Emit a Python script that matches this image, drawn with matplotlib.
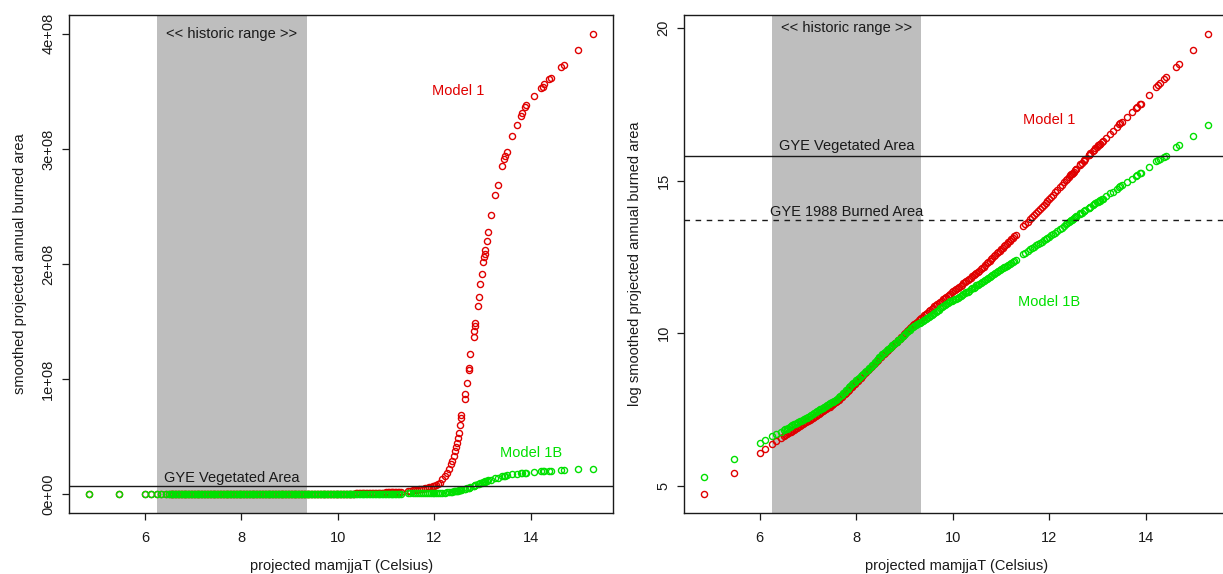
import matplotlib
matplotlib.use("Agg")
import matplotlib.pyplot as plt
import numpy as np

plt.rcParams['font.family'] = ['Liberation Sans', 'DejaVu Sans']

# projected mean Mar-Aug temperature (Celsius), shared by both models
temp = [
    4.85, 5.46, 6.01, 6.12, 6.25, 6.34, 6.44,
    6.50, 6.56, 6.62, 6.68, 6.74, 6.80, 6.86, 6.92, 6.98, 7.04,
    7.10, 7.16, 7.22, 7.28, 7.34, 7.40, 7.46, 7.52, 7.58, 7.64,
    7.70, 7.76, 7.82, 7.88, 7.94, 8.00, 8.06, 8.12, 8.18, 8.24,
    8.30, 8.36, 8.42, 8.48, 8.54, 8.60, 8.66, 8.72, 8.78, 8.84,
    8.90, 8.96, 9.02, 9.08, 9.14, 9.20, 9.26, 9.32, 9.38, 9.44,
    9.50, 9.56, 9.62, 9.68, 9.74, 9.80, 9.86, 9.92, 9.98, 10.04,
    10.10, 10.16, 10.22, 10.28, 10.34, 10.40, 10.46, 10.52, 10.58, 10.64,
    10.70, 10.76, 10.82, 10.88, 10.94, 11.00, 11.06, 11.12, 11.18, 11.24,
    11.30,
    11.46, 11.50, 11.55, 11.60, 11.64, 11.68, 11.72, 11.76, 11.80, 11.84,
    11.88, 11.92, 11.96, 12.00, 12.04, 12.08,
    12.11, 12.16, 12.21, 12.25, 12.30, 12.34, 12.37, 12.40, 12.43, 12.45,
    12.46, 12.48, 12.50, 12.53, 12.55, 12.56, 12.63, 12.64, 12.67, 12.71,
    12.72, 12.74, 12.81, 12.82, 12.84, 12.85, 12.90, 12.92, 12.95, 12.98,
    13.01, 13.03, 13.04, 13.05, 13.08, 13.11, 13.17, 13.26, 13.31, 13.40,
    13.45, 13.47, 13.50, 13.61, 13.71, 13.79, 13.81, 13.88, 13.89, 14.06,
    14.21, 14.25, 14.28, 14.37, 14.41, 14.62, 14.68, 14.97, 15.29,
    # second pass through the dense band
    6.53, 6.59, 6.65, 6.71, 6.77, 6.83, 6.89, 6.95, 7.01, 7.07,
    7.13, 7.19, 7.25, 7.31, 7.37, 7.43, 7.49, 7.55, 7.61, 7.67,
    7.73, 7.79, 7.85, 7.91, 7.97, 8.03, 8.09, 8.15, 8.21, 8.27,
    8.33, 8.39, 8.45, 8.51, 8.57, 8.63, 8.69, 8.75, 8.81, 8.87,
    8.93, 8.99, 9.05, 9.11, 9.17, 9.23, 9.29, 9.35, 9.41, 9.47,
    9.53, 9.59, 9.65, 9.71, 9.77, 9.83, 9.89, 9.95, 10.01, 10.07,
    10.13, 10.19, 10.25, 10.31, 10.37, 10.43, 10.49, 10.55, 10.61, 10.67,
    10.73, 10.79, 10.85, 10.91, 10.97, 11.03, 11.09, 11.15, 11.21, 11.27,
]

# smoothed projected annual burned area, millions
area_m1 = [
    0.0, 0.0, 0.0, 0.0, 0.0, 0.0, 0.0,
    0.0, 0.0, 0.0, 0.0, 0.0, 0.0, 0.0, 0.0, 0.0, 0.0,
    0.0, 0.0, 0.0, 0.0, 0.0, 0.0, 0.0, 0.0, 0.0, 0.0,
    0.0, 0.0, 0.0, 0.0, 0.0, 0.0, 0.0, 0.0, 0.0, 0.0,
    0.0, 0.0, 0.0, 0.0, 0.0, 0.0, 0.0, 0.0, 0.0, 0.0,
    0.0, 0.0, 0.0, 0.0, 0.0, 0.0, 0.0, 0.0, 0.0, 0.0,
    0.1, 0.1, 0.1, 0.2, 0.2, 0.2, 0.3, 0.3, 0.4, 0.4,
    0.5, 0.5, 0.6, 0.7, 0.7, 0.8, 0.9, 1.0, 1.0, 1.1,
    1.2, 1.3, 1.4, 1.5, 1.6, 1.7, 1.8, 1.9, 2.0, 2.1,
    2.2,
    3.0, 3.2, 3.5, 3.8, 4.1, 4.4, 4.7, 5.0, 5.3, 5.6,
    6.0, 6.4, 7.0, 7.6, 8.3, 9.2,
    10, 13, 16, 19, 22, 26, 29, 33, 38, 41,
    45, 49, 53, 60, 66, 69, 83, 87, 97, 108,
    110, 122, 137, 142, 146, 149, 164, 171, 183, 191,
    202, 206, 209, 212, 220, 228, 243, 260, 269, 285,
    291, 294, 297, 311, 321, 329, 331, 336, 338, 346,
    353, 354, 356, 361, 362, 371, 373, 386, 400,
    0.0, 0.0, 0.0, 0.0, 0.0, 0.0, 0.0, 0.0, 0.0, 0.0,
    0.0, 0.0, 0.0, 0.0, 0.0, 0.0, 0.0, 0.0, 0.0, 0.0,
    0.0, 0.0, 0.0, 0.0, 0.0, 0.0, 0.0, 0.0, 0.0, 0.0,
    0.0, 0.0, 0.0, 0.0, 0.0, 0.0, 0.0, 0.0, 0.0, 0.0,
    0.0, 0.0, 0.0, 0.0, 0.0, 0.0, 0.0, 0.0, 0.0, 0.0,
    0.1, 0.1, 0.2, 0.2, 0.2, 0.3, 0.3, 0.4, 0.4, 0.5,
    0.5, 0.6, 0.6, 0.7, 0.8, 0.8, 0.9, 1.0, 1.1, 1.1,
    1.2, 1.3, 1.4, 1.5, 1.6, 1.7, 1.8, 1.9, 2.0, 2.1,
]
area_m1b = [
    0.0, 0.0, 0.0, 0.0, 0.0, 0.0, 0.0,
    0.0, 0.0, 0.0, 0.0, 0.0, 0.0, 0.0, 0.0, 0.0, 0.0,
    0.0, 0.0, 0.0, 0.0, 0.0, 0.0, 0.0, 0.0, 0.0, 0.0,
    0.0, 0.0, 0.0, 0.0, 0.0, 0.0, 0.0, 0.0, 0.0, 0.0,
    0.0, 0.0, 0.0, 0.0, 0.0, 0.0, 0.0, 0.0, 0.0, 0.0,
    0.0, 0.0, 0.0, 0.0, 0.0, 0.0, 0.0, 0.0, 0.0, 0.0,
    0.0, 0.0, 0.0, 0.0, 0.1, 0.1, 0.1, 0.1, 0.1, 0.1,
    0.1, 0.1, 0.2, 0.2, 0.2, 0.2, 0.2, 0.3, 0.3, 0.3,
    0.3, 0.4, 0.4, 0.4, 0.4, 0.5, 0.5, 0.5, 0.5, 0.6,
    0.6,
    1.0, 1.0, 1.0, 1.1, 1.1, 1.1, 1.2, 1.2, 1.2, 1.3,
    1.3, 1.3, 1.3, 1.4, 1.4, 1.4,
    1.4, 1.5, 1.6, 1.8, 2.0, 2.2, 2.4, 2.6, 2.9, 3.0,
    3.1, 3.3, 3.5, 3.8, 4.0, 4.1, 4.8, 4.9, 5.3, 5.8,
    5.9, 6.2, 7.3, 7.5, 7.8, 8.0, 8.8, 9.1, 9.6, 10.1,
    10.6, 10.9, 11.1, 11.3, 11.7, 12.1, 12.9, 14.0, 14.6, 15.6,
    16.1, 16.3, 16.5, 17.4, 18.0, 18.4, 18.5, 18.8, 18.9, 19.5,
    19.9, 20.0, 20.0, 20.2, 20.3, 20.8, 21.0, 21.8, 22.4,
    0.0, 0.0, 0.0, 0.0, 0.0, 0.0, 0.0, 0.0, 0.0, 0.0,
    0.0, 0.0, 0.0, 0.0, 0.0, 0.0, 0.0, 0.0, 0.0, 0.0,
    0.0, 0.0, 0.0, 0.0, 0.0, 0.0, 0.0, 0.0, 0.0, 0.0,
    0.0, 0.0, 0.0, 0.0, 0.0, 0.0, 0.0, 0.0, 0.0, 0.0,
    0.0, 0.0, 0.0, 0.0, 0.0, 0.0, 0.0, 0.0, 0.0, 0.0,
    0.0, 0.0, 0.0, 0.1, 0.1, 0.1, 0.1, 0.1, 0.1, 0.1,
    0.1, 0.2, 0.2, 0.2, 0.2, 0.2, 0.3, 0.3, 0.3, 0.3,
    0.3, 0.4, 0.4, 0.4, 0.5, 0.5, 0.5, 0.5, 0.6, 0.6,
]

# log smoothed projected annual burned area
log_m1 = [
    4.71, 5.41, 6.07, 6.21, 6.35, 6.45, 6.57,
    6.63, 6.69, 6.74, 6.80, 6.86, 6.92, 6.98, 7.04, 7.10, 7.16,
    7.22, 7.28, 7.34, 7.40, 7.47, 7.53, 7.59, 7.66, 7.73, 7.81,
    7.91, 8.00, 8.09, 8.19, 8.29, 8.38, 8.48, 8.58, 8.68, 8.78,
    8.88, 8.98, 9.08, 9.18, 9.27, 9.36, 9.45, 9.54, 9.63, 9.72,
    9.82, 9.91, 10.01, 10.10, 10.20, 10.29, 10.37, 10.46, 10.54, 10.62,
    10.71, 10.79, 10.87, 10.94, 11.02, 11.10, 11.18, 11.25, 11.33, 11.40,
    11.48, 11.55, 11.63, 11.70, 11.78, 11.86, 11.93, 12.01, 12.09, 12.18,
    12.28, 12.37, 12.46, 12.56, 12.65, 12.74, 12.84, 12.93, 13.02, 13.12,
    13.21,
    13.50, 13.57, 13.65, 13.74, 13.80, 13.87, 13.94, 14.00, 14.07, 14.14,
    14.20, 14.27, 14.34, 14.40, 14.47, 14.54,
    14.61, 14.70, 14.78, 14.85, 14.94, 15.01, 15.06, 15.11, 15.17, 15.20,
    15.22, 15.25, 15.29, 15.34, 15.38, 15.39, 15.52, 15.53, 15.58, 15.65,
    15.67, 15.71, 15.83, 15.85, 15.88, 15.90, 15.97, 16.01, 16.05, 16.10,
    16.15, 16.18, 16.20, 16.21, 16.26, 16.31, 16.40, 16.54, 16.62, 16.76,
    16.84, 16.87, 16.92, 17.09, 17.24, 17.37, 17.40, 17.51, 17.52, 17.81,
    18.07, 18.14, 18.19, 18.32, 18.38, 18.72, 18.81, 19.27, 19.81,
    6.66, 6.72, 6.77, 6.83, 6.89, 6.95, 7.01, 7.07, 7.13, 7.19,
    7.25, 7.31, 7.37, 7.44, 7.50, 7.56, 7.63, 7.70, 7.77, 7.86,
    7.96, 8.05, 8.14, 8.24, 8.34, 8.43, 8.53, 8.63, 8.73, 8.83,
    8.93, 9.03, 9.13, 9.23, 9.32, 9.41, 9.50, 9.59, 9.68, 9.77,
    9.87, 9.96, 10.06, 10.15, 10.25, 10.33, 10.42, 10.50, 10.58, 10.67,
    10.75, 10.83, 10.91, 10.98, 11.06, 11.14, 11.22, 11.29, 11.37, 11.44,
    11.52, 11.59, 11.67, 11.74, 11.82, 11.90, 11.97, 12.05, 12.14, 12.23,
    12.33, 12.42, 12.51, 12.61, 12.70, 12.79, 12.89, 12.98, 13.07, 13.17,
]
log_m1b = [
    5.27, 5.86, 6.38, 6.50, 6.61, 6.69, 6.77,
    6.82, 6.87, 6.92, 6.98, 7.03, 7.08, 7.13, 7.18, 7.23, 7.29,
    7.35, 7.41, 7.47, 7.52, 7.58, 7.64, 7.70, 7.75, 7.80, 7.89,
    7.98, 8.08, 8.17, 8.27, 8.36, 8.45, 8.53, 8.62, 8.71, 8.79,
    8.89, 8.99, 9.10, 9.21, 9.30, 9.38, 9.47, 9.55, 9.64, 9.72,
    9.81, 9.89, 9.98, 10.07, 10.15, 10.23, 10.29, 10.34, 10.40, 10.46,
    10.51, 10.58, 10.65, 10.73, 10.81, 10.88, 10.96, 11.01, 11.06, 11.10,
    11.15, 11.20, 11.27, 11.33, 11.39, 11.46, 11.52, 11.59, 11.65, 11.71,
    11.78, 11.84, 11.90, 11.96, 12.03, 12.09, 12.15, 12.21, 12.27, 12.34,
    12.40,
    12.59, 12.63, 12.69, 12.74, 12.78, 12.82, 12.87, 12.91, 12.95, 13.00,
    13.04, 13.08, 13.12, 13.16, 13.20, 13.25,
    13.28, 13.33, 13.40, 13.45, 13.51, 13.57, 13.60, 13.64, 13.68, 13.71,
    13.72, 13.75, 13.77, 13.80, 13.82, 13.83, 13.91, 13.92, 13.95, 13.99,
    14.00, 14.03, 14.10, 14.11, 14.13, 14.14, 14.20, 14.22, 14.25, 14.28,
    14.31, 14.33, 14.34, 14.35, 14.38, 14.41, 14.48, 14.58, 14.63, 14.73,
    14.79, 14.81, 14.84, 14.96, 15.06, 15.15, 15.17, 15.24, 15.25, 15.45,
    15.64, 15.68, 15.71, 15.78, 15.82, 16.09, 16.15, 16.45, 16.81,
    6.85, 6.90, 6.95, 7.01, 7.06, 7.11, 7.16, 7.21, 7.26, 7.32,
    7.38, 7.44, 7.50, 7.55, 7.61, 7.67, 7.73, 7.78, 7.85, 7.94,
    8.03, 8.13, 8.22, 8.32, 8.41, 8.49, 8.58, 8.67, 8.75, 8.84,
    8.94, 9.05, 9.16, 9.26, 9.34, 9.43, 9.51, 9.60, 9.68, 9.77,
    9.85, 9.94, 10.03, 10.11, 10.19, 10.26, 10.32, 10.37, 10.43, 10.49,
    10.55, 10.62, 10.69, 10.77, 10.85, 10.92, 10.99, 11.04, 11.08, 11.13,
    11.18, 11.24, 11.30, 11.36, 11.43, 11.49, 11.56, 11.62, 11.68, 11.75,
    11.81, 11.87, 11.93, 12.00, 12.06, 12.12, 12.18, 12.24, 12.31, 12.37,
]

historic = (6.25, 9.35)      # range of observed temperatures
gye_veg = 15.82              # log GYE vegetated area
gye_1988 = 13.71             # log GYE 1988 burned area
gye_veg_area = 7.6e6         # GYE vegetated area

red = '#e00000'
green = '#00e000'
ink = '#1a1a1a'

temp = np.array(temp)
area_m1 = np.array(area_m1) * 1e6
area_m1b = np.array(area_m1b) * 1e6

fig = plt.figure(figsize=(12.23, 5.74), dpi=100)
ax1 = fig.add_axes([0.0566, 0.1066, 0.445, 0.8666])
ax2 = fig.add_axes([0.5595, 0.1066, 0.4451, 0.8666])


def style_axes(ax, ylabel):
    for s in ax.spines.values():
        s.set_color(ink)
        s.set_linewidth(1.0)
    ax.tick_params(direction='out', length=5, width=0.9, colors=ink, labelsize=10.5)
    ax.tick_params(axis='x', pad=8)
    ax.tick_params(axis='y', pad=5)
    ax.set_xticks([6, 8, 10, 12, 14])
    ax.set_xlabel('projected mamjjaT (Celsius)', fontsize=10.5, color=ink, labelpad=10)
    ax.set_ylabel(ylabel, fontsize=10.5, color=ink, labelpad=10)
    plt.setp(ax.get_yticklabels(), rotation=90, va='center')
    ax.axvspan(*historic, color='#bebebe', lw=0, zorder=0)


def pts(ax, x, y, c):
    ax.plot(x, y, 'o', ls='none', ms=4.4, mfc='none', mec=c, mew=1.0, zorder=2)


mid = (historic[0] + historic[1]) / 2

# left: burned area on the natural scale
pts(ax1, temp, area_m1, red)
pts(ax1, temp, area_m1b, green)
ax1.axhline(gye_veg_area, color=ink, lw=1.0, zorder=3)
ax1.set_xlim(4.43, 15.71)
ax1.set_ylim(-0.16e8, 4.16e8)
ax1.set_yticks([0, 1e8, 2e8, 3e8, 4e8])
ax1.set_yticklabels(['0e+00', '1e+08', '2e+08', '3e+08', '4e+08'])
style_axes(ax1, 'smoothed projected annual burned area')
ax1.text(mid, 4.0e8, '<< historic range >>', ha='center', va='center', fontsize=10.5, color=ink)
ax1.text(mid, 1.45e7, 'GYE Vegetated Area', ha='center', va='center', fontsize=10.5, color=ink)
ax1.text(12.5, 3.5e8, 'Model 1', ha='center', va='center', fontsize=10.5, color=red)
ax1.text(14.0, 0.36e8, 'Model 1B', ha='center', va='center', fontsize=10.5, color=green)

# right: log burned area
pts(ax2, temp, log_m1, red)
pts(ax2, temp, log_m1b, green)
ax2.axhline(gye_veg, color=ink, lw=1.0, zorder=3)
ax2.axhline(gye_1988, color=ink, lw=1.0, ls=(0, (4, 4)), zorder=3)
ax2.set_xlim(4.44, 15.71)
ax2.set_ylim(4.106, 20.414)
ax2.set_yticks([5, 10, 15, 20])
style_axes(ax2, 'log smoothed projected annual burned area')
ax2.text(mid, 20.0, '<< historic range >>', ha='center', va='center', fontsize=10.5, color=ink)
ax2.text(mid, 16.13, 'GYE Vegetated Area', ha='center', va='center', fontsize=10.5, color=ink)
ax2.text(mid, 13.97, 'GYE 1988 Burned Area', ha='center', va='center', fontsize=10.5, color=ink)
ax2.text(12.0, 17.0, 'Model 1', ha='center', va='center', fontsize=10.5, color=red)
ax2.text(12.0, 11.03, 'Model 1B', ha='center', va='center', fontsize=10.5, color=green)

fig.savefig('out.png', dpi=100, facecolor='white')
